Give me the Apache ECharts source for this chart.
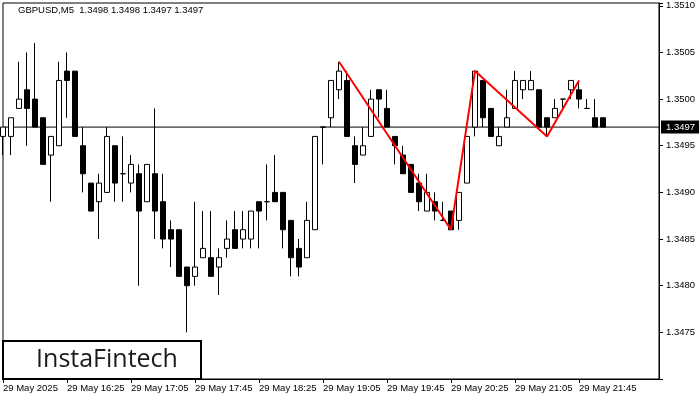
<!DOCTYPE html>
<html>
<head>
<meta charset="utf-8">
<script src="https://cdn.jsdelivr.net/npm/echarts@6/dist/echarts.min.js"></script>
<style>html,body{margin:0;padding:0;background:#fff}#c{width:700px;height:400px}</style>
</head>
<body>
<div id="c"></div>
<script>
// ---- data (GBPUSD M5, 29 May 2025, from 15:45, one candle per 5 min) ----
var startHour = 15, startMin = 45, stepMin = 5, totalSlots = 83;
var opens  = [1.3496,1.3496,1.3499,1.3501,1.3500,1.3498,1.3494,1.3495,1.3503,1.3503,
              1.3495,1.3491,1.3489,1.3490,1.3495,1.3492,1.3491,1.3492,1.3489,1.3492,
              1.3489,1.3486,1.3486,1.3482,1.3481,1.3483,1.3483,1.3482,1.3484,1.3486,
              1.3485,1.3485,1.3489,1.3489,1.3490,1.3490,1.3487,1.3484,1.3483,1.3486,
              1.3497,1.3498,1.3501,1.3502,1.3495,1.3494,1.3496,1.3501,1.3499,1.3496,
              1.3494,1.3493,1.3491,1.3488,1.3489,1.3487,1.3488,1.3487,1.3491,1.3497,
              1.3502,1.3499,1.3495,1.3497,1.3499,1.3501,1.3501,1.3501,1.3498,1.3498,
              1.3500,1.3501,1.3501,1.3499,1.3498,1.3498];
var closes = [1.3497,1.3498,1.3500,1.3499,1.3497,1.3493,1.3496,1.3502,1.3502,1.3496,
              1.3492,1.3488,1.3491,1.3496,1.3491,1.3492,1.3493,1.3488,1.3493,1.3488,
              1.3485,1.3485,1.3481,1.3480,1.3482,1.3484,1.3481,1.3483,1.3485,1.3484,
              1.3486,1.3488,1.3488,1.3489,1.3489,1.3486,1.3483,1.3482,1.3487,1.3496,
              1.3497,1.3502,1.3503,1.3496,1.3493,1.3495,1.3500,1.3500,1.3497,1.3495,
              1.3492,1.3490,1.3489,1.3490,1.3488,1.3487,1.3486,1.3490,1.3496,1.3503,
              1.3498,1.3496,1.3496,1.3498,1.3502,1.3502,1.3502,1.3497,1.3497,1.3499,
              1.3500,1.3502,1.3500,1.3499,1.3497,1.3497];
var lows   = [1.3494,1.3494,1.3499,1.3495,1.3497,1.3493,1.3489,1.3495,1.3498,1.3496,
              1.3490,1.3488,1.3485,1.3490,1.3489,1.3489,1.3490,1.3480,1.3489,1.3485,
              1.3484,1.3482,1.3481,1.3475,1.3480,1.3483,1.3481,1.3479,1.3483,1.3484,
              1.3484,1.3484,1.3484,1.3487,1.3489,1.3484,1.3481,1.3481,1.3483,1.3486,
              1.3493,1.3497,1.3500,1.3496,1.3491,1.3494,1.3496,1.3498,1.3497,1.3493,
              1.3492,1.3490,1.3488,1.3488,1.3487,1.3487,1.3486,1.3486,1.3491,1.3496,
              1.3497,1.3496,1.3495,1.3497,1.3499,1.3500,1.3501,1.3497,1.3496,1.3498,
              1.3499,1.3500,1.3499,1.3499,1.3497,1.3497];
var highs  = [1.3497,1.3498,1.3504,1.3505,1.3506,1.3498,1.3496,1.3504,1.3505,1.3503,
              1.3497,1.3491,1.3492,1.3497,1.3495,1.3496,1.3494,1.3493,1.3493,1.3499,
              1.3492,1.3487,1.3486,1.3482,1.3489,1.3488,1.3488,1.3484,1.3487,1.3488,
              1.3488,1.3488,1.3489,1.3493,1.3494,1.3490,1.3487,1.3485,1.3489,1.3496,
              1.3497,1.3502,1.3504,1.3503,1.3496,1.3497,1.3501,1.3501,1.3501,1.3496,
              1.3495,1.3493,1.3492,1.3492,1.3490,1.3489,1.3488,1.3490,1.3496,1.3503,
              1.3502,1.3499,1.3497,1.3501,1.3503,1.3502,1.3503,1.3501,1.3498,1.3500,
              1.3500,1.3502,1.3502,1.3500,1.3500,1.3498];
// pattern line (candle index, price)
var patternIdx    = [42, 56, 59, 68, 72];
var patternPrices = [1.3504, 1.3486, 1.3503, 1.3496, 1.3502];
// x tick labels every 8 candles
var tickEvery = 8;
var tickLabels = ['29 May 2025','29 May 16:25','29 May 17:05','29 May 17:45','29 May 18:25',
                  '29 May 19:05','29 May 19:45','29 May 20:25','29 May 21:05','29 May 21:45'];
var currentPrice = 1.3497;
var headerText = 'GBPUSD,M5  1.3498 1.3498 1.3497 1.3497';
var yMin = 1.3470, yMax = 1.35103, yStep = 0.0005;

// ---- build ----
var categories = [];
for (var k = 0; k < totalSlots; k++) {
  var m = startHour * 60 + startMin + k * stepMin;
  var hh = Math.floor(m / 60), mm = m % 60;
  categories.push((hh < 10 ? '0' : '') + hh + ':' + (mm < 10 ? '0' : '') + mm);
}
var candles = opens.map(function (o, i) { return [o, closes[i], lows[i], highs[i]]; });
var pattern = patternIdx.map(function (x, i) { return [x, patternPrices[i]]; });
var priceLine = categories.map(function (c, i) { return [i, currentPrice]; });
function isTick(i) { return i % tickEvery === 0 && (i / tickEvery) < tickLabels.length; }

var FONT = '"Liberation Sans", Arial, sans-serif';
var chart = echarts.init(document.getElementById('c'), null, {renderer: 'canvas'});
chart.setOption({
  animation: false,
  backgroundColor: '#fff',
  grid: {left: 3, right: 41, top: 3, bottom: 21, show: true, borderColor: '#000', borderWidth: 1, backgroundColor: '#fff'},
  xAxis: {
    type: 'category', data: categories, boundaryGap: false,
    axisLine: {show: true, lineStyle: {color: '#000', width: 1}},
    axisTick: {show: true, length: 4, lineStyle: {color: '#000'}, interval: function (i) { return isTick(i); }},
    axisLabel: {
      show: true, interval: function (i) { return isTick(i); }, align: 'left', margin: 4,
      color: '#000', fontSize: 9.5, fontFamily: FONT,
      formatter: function (v, i) { return tickLabels[i / tickEvery] || ''; }
    },
    splitLine: {show: false}
  },
  yAxis: {
    type: 'value', position: 'right', min: yMin, max: yMax, interval: yStep, scale: true,
    axisLine: {show: true, lineStyle: {color: '#000', width: 1}},
    axisTick: {show: true, inside: false, length: 4, lineStyle: {color: '#000'}},
    axisLabel: {
      color: '#000', fontSize: 9.5, fontFamily: FONT, margin: 7,
      formatter: function (v) {
        var r = Math.round(v / yStep);
        if (Math.abs(v - r * yStep) > 1e-7) return '';
        if (Math.abs(v - yMin) < 1e-7) return '';
        return v.toFixed(4);
      }
    },
    splitLine: {show: false}
  },
  series: [
    {
      type: 'line', data: priceLine, showSymbol: false, symbol: 'none', z: 1, silent: true,
      lineStyle: {color: '#000', width: 1},
      endLabel: {
        show: true, distance: 2,
        formatter: function () { return currentPrice.toFixed(4); },
        color: '#fff', backgroundColor: '#000', padding: [2, 4, 1, 5],
        fontSize: 9.5, fontFamily: FONT
      }
    },
    {
      type: 'candlestick', data: candles, barWidth: 5, clip: true, z: 2,
      itemStyle: {color: '#fff', color0: '#000', borderColor: '#000', borderColor0: '#000', borderWidth: 1}
    },
    {
      type: 'line', data: pattern, showSymbol: false, symbol: 'none', z: 5,
      lineStyle: {color: '#ff0000', width: 2}
    }
  ],
  graphic: [
    {type: 'text', left: 18, top: 5, z: 10,
     style: {text: headerText, font: '9.5px ' + FONT, fill: '#000'}},
    {type: 'rect', z: 10, shape: {x: 3, y: 341, width: 198, height: 38},
     style: {fill: '#fff', stroke: '#000', lineWidth: 2}},
    {type: 'text', z: 11, x: 107, y: 360,
     style: {text: 'InstaFintech', font: '25px "Open Sans", sans-serif', fill: '#1a1a1a', textAlign: 'center', textVerticalAlign: 'middle'}}
  ]
});
</script>
</body>
</html>
